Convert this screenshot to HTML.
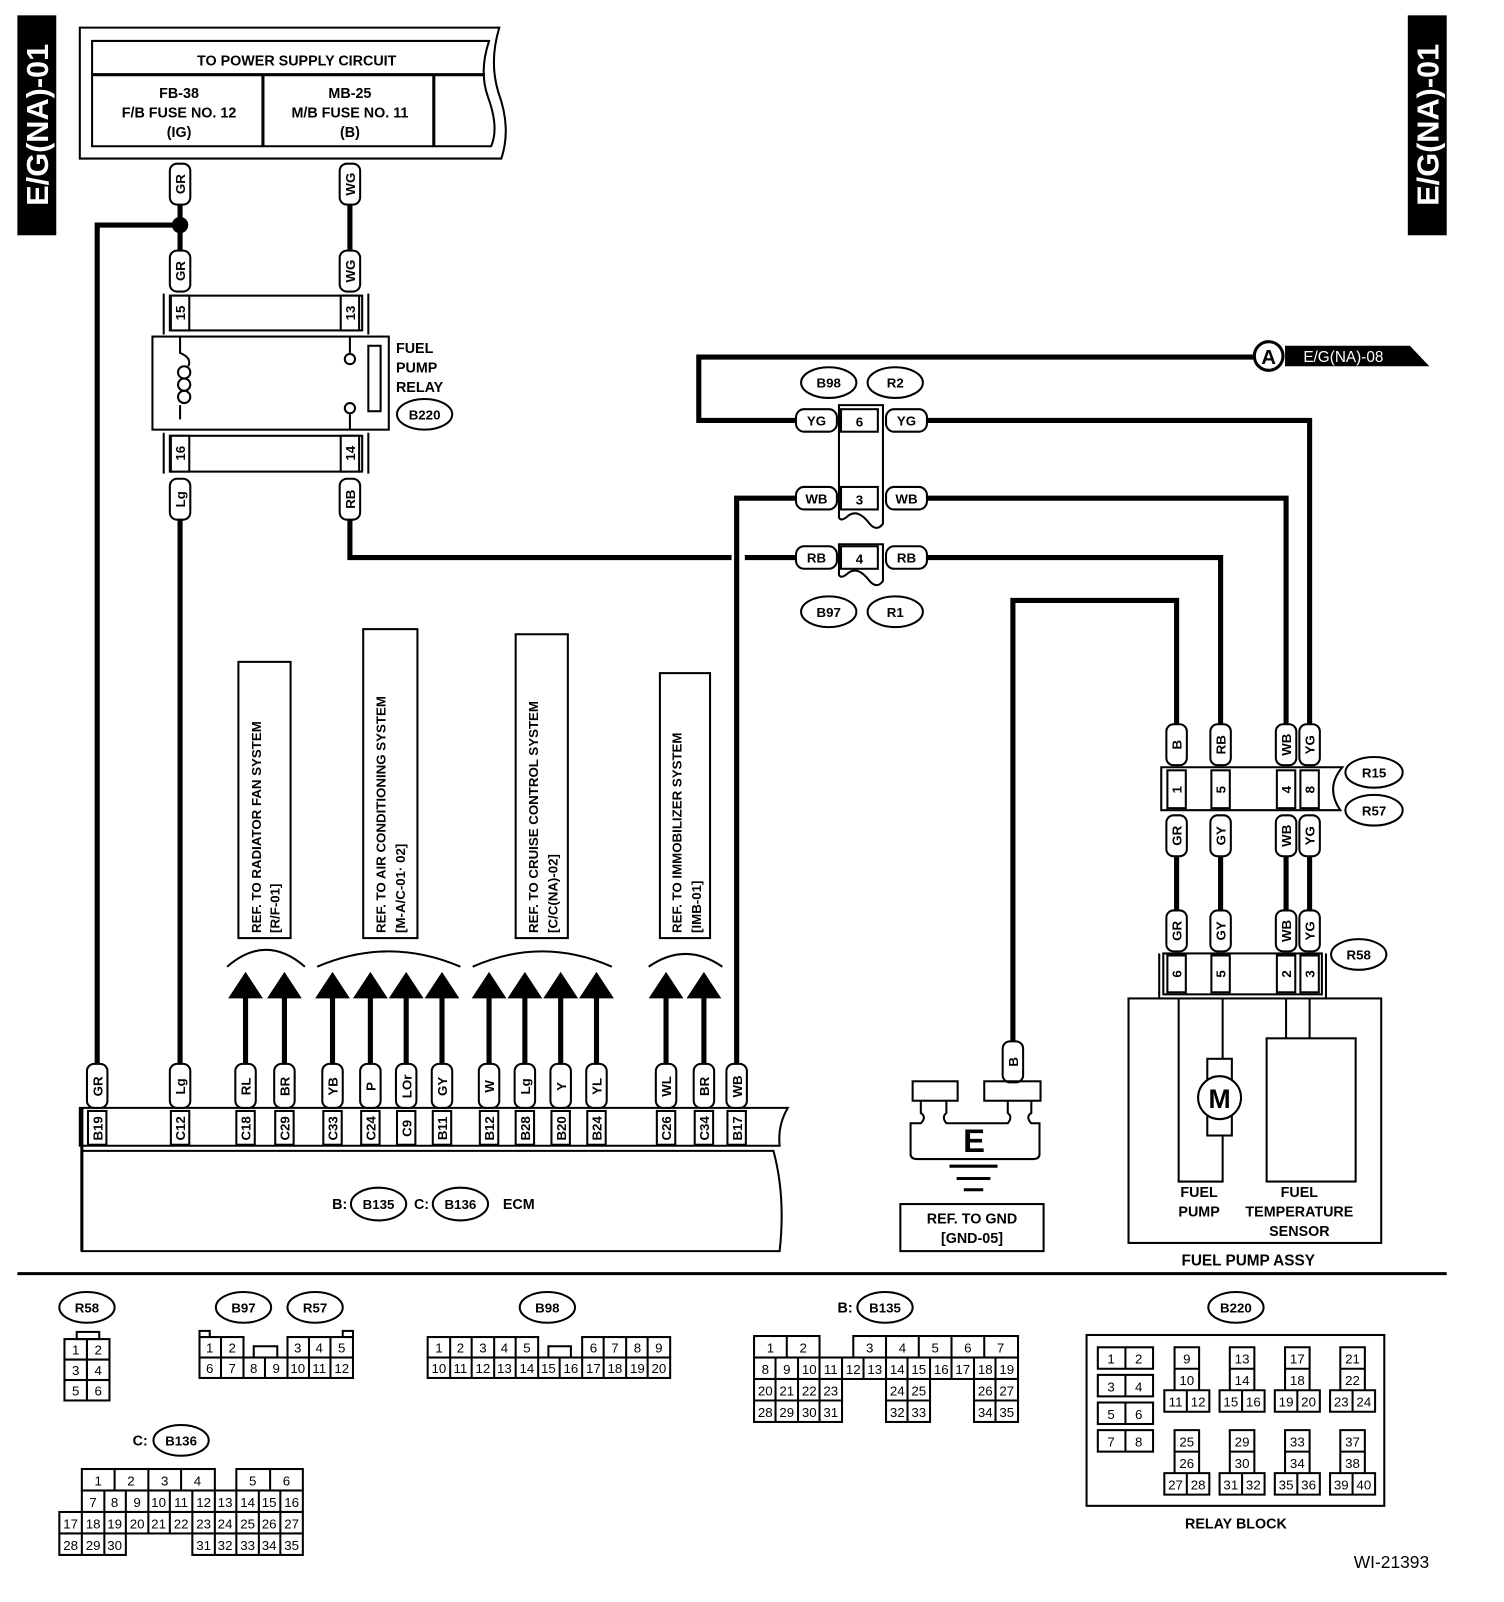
<!DOCTYPE html>
<html><head><meta charset="utf-8"><style>
html,body{margin:0;padding:0;background:#fff}
svg{display:block}
text{font-family:"Liberation Sans",sans-serif;font-weight:bold;fill:#000}
.c{font-size:13px;text-anchor:middle}
.m{font-size:14px;text-anchor:middle}
.s{font-size:13px;font-weight:normal;text-anchor:middle}
.b{font-size:14px;text-anchor:middle}
.w{fill:none;stroke:#000;stroke-width:5}
.t{fill:#fff;stroke:#000;stroke-width:2}
.n{fill:none;stroke:#000;stroke-width:2}
</style></head><body>
<svg width="1504" height="1602" viewBox="0 0 1470 1566" preserveAspectRatio="none" xmlns="http://www.w3.org/2000/svg">
<rect x="17" y="15" width="38" height="215" fill="#000"/>
<text transform="translate(47,122) rotate(-90)" style="font-size:30px;fill:#fff;text-anchor:middle">E/G(NA)-01</text>
<rect x="1376" y="15" width="38" height="215" fill="#000"/>
<text transform="translate(1406,122) rotate(-90)" style="font-size:30px;fill:#fff;text-anchor:middle">E/G(NA)-01</text>

<path d="M78,27 L488,27 Q478,60 487,90 Q500,125 490,155 L78,155 Z" class="n" stroke-width="3"/>
<path d="M90,40 L478,40 Q468,70 477,95 Q488,125 480,143 L90,143 Z" class="n" stroke-width="3"/>
<line x1="90" y1="73" x2="474" y2="73" stroke="#000" stroke-width="3"/>
<line x1="257" y1="73" x2="257" y2="143" stroke="#000" stroke-width="3"/>
<line x1="424" y1="73" x2="424" y2="143" stroke="#000" stroke-width="3"/>
<text x="290" y="64" class="b">TO POWER SUPPLY CIRCUIT</text>
<text x="175" y="96" class="b">FB-38</text>
<text x="175" y="115" class="b">F/B FUSE NO. 12</text>
<text x="175" y="134" class="b">(IG)</text>
<text x="342" y="96" class="b">MB-25</text>
<text x="342" y="115" class="b">M/B FUSE NO. 11</text>
<text x="342" y="134" class="b">(B)</text>

<path class="w" d="M176,200 V245 M176,220 H95 V1040 M342,200 V245"/>
<circle cx="176" cy="220" r="8" fill="#000"/>
<path class="w" d="M176,508 V1040"/>
<path class="w" d="M342,508 V545 H715 M728,545 H778"/>
<path class="w" d="M778,411 H683 V349 H1228"/>
<path class="w" d="M905,411 H1280 V708"/>
<path class="w" d="M778,487 H720 V1040"/>
<path class="w" d="M905,487 H1257 V708"/>
<path class="w" d="M905,545 H1193 V708"/>
<path class="w" d="M1150,708 V587 H990 V1020"/>
<path class="w" d="M1150,837 V890 M1193,837 V890 M1257,837 V890 M1280,837 V890"/>

<circle cx="1240" cy="348" r="14" fill="#fff" stroke="#000" stroke-width="3"/>
<text x="1240" y="356" class="m" style="font-size:20px">A</text>
<path d="M1256,338 L1378,338 L1397,358 L1256,358 Z" fill="#000"/>
<text x="1313" y="354" class="s" style="fill:#fff;font-size:15px">E/G(NA)-08</text>

<line x1="160" y1="287" x2="160" y2="327" stroke="#000" stroke-width="2"/>
<line x1="360" y1="287" x2="360" y2="327" stroke="#000" stroke-width="2"/>
<rect x="166" y="289" width="188" height="34" class="t" stroke-width="3"/>
<rect x="167" y="289" width="18" height="34" class="t"/>
<rect x="333" y="289" width="18" height="34" class="t"/>
<text transform="translate(181,306) rotate(-90)" class="c">15</text>
<text transform="translate(347,306) rotate(-90)" class="c">13</text>
<rect x="149" y="329" width="231" height="91" class="t"/>
<path d="M176,329 V345 Q188,350 184,358 M176,410 V396" class="n"/>
<circle cx="180" cy="364" r="6" class="n"/><circle cx="180" cy="376" r="6" class="n"/><circle cx="180" cy="388" r="6" class="n"/>
<line x1="342" y1="329" x2="342" y2="345" stroke="#000" stroke-width="2"/>
<circle cx="342" cy="351" r="5" class="t"/>
<circle cx="342" cy="399" r="5" class="t"/>
<line x1="342" y1="404" x2="342" y2="420" stroke="#000" stroke-width="2"/>
<rect x="360" y="338" width="12" height="64" class="t"/>
<text x="387" y="345" style="font-size:14px">FUEL</text>
<text x="387" y="364" style="font-size:14px">PUMP</text>
<text x="387" y="383" style="font-size:14px">RELAY</text>
<ellipse cx="415" cy="405" rx="27" ry="15" class="t" stroke-width="3"/>
<text x="415" y="410" class="c">B220</text>
<line x1="160" y1="423" x2="160" y2="463" stroke="#000" stroke-width="2"/>
<line x1="360" y1="423" x2="360" y2="463" stroke="#000" stroke-width="2"/>
<rect x="166" y="426" width="188" height="35" class="t" stroke-width="3"/>
<rect x="167" y="426" width="18" height="35" class="t"/>
<rect x="333" y="426" width="18" height="35" class="t"/>
<text transform="translate(181,443) rotate(-90)" class="c">16</text>
<text transform="translate(347,443) rotate(-90)" class="c">14</text>

<g>
<rect x="166" y="160" width="20" height="40" rx="7" class="t"/><text transform="translate(181,180) rotate(-90)" class="c">GR</text>
<rect x="166" y="245" width="20" height="40" rx="7" class="t"/><text transform="translate(181,265) rotate(-90)" class="c">GR</text>
<rect x="332" y="160" width="20" height="40" rx="7" class="t"/><text transform="translate(347,180) rotate(-90)" class="c">WG</text>
<rect x="332" y="245" width="20" height="40" rx="7" class="t"/><text transform="translate(347,265) rotate(-90)" class="c">WG</text>
<rect x="166" y="468" width="20" height="40" rx="7" class="t"/><text transform="translate(181,488) rotate(-90)" class="c">Lg</text>
<rect x="332" y="468" width="20" height="40" rx="7" class="t"/><text transform="translate(347,488) rotate(-90)" class="c">RB</text>
<rect x="1140" y="708" width="20" height="40" rx="7" class="t"/><text transform="translate(1155,728) rotate(-90)" class="c">B</text>
<rect x="1183" y="708" width="20" height="40" rx="7" class="t"/><text transform="translate(1198,728) rotate(-90)" class="c">RB</text>
<rect x="1247" y="708" width="20" height="40" rx="7" class="t"/><text transform="translate(1262,728) rotate(-90)" class="c">WB</text>
<rect x="1270" y="708" width="20" height="40" rx="7" class="t"/><text transform="translate(1285,728) rotate(-90)" class="c">YG</text>
<rect x="1140" y="797" width="20" height="40" rx="7" class="t"/><text transform="translate(1155,817) rotate(-90)" class="c">GR</text>
<rect x="1183" y="797" width="20" height="40" rx="7" class="t"/><text transform="translate(1198,817) rotate(-90)" class="c">GY</text>
<rect x="1247" y="797" width="20" height="40" rx="7" class="t"/><text transform="translate(1262,817) rotate(-90)" class="c">WB</text>
<rect x="1270" y="797" width="20" height="40" rx="7" class="t"/><text transform="translate(1285,817) rotate(-90)" class="c">YG</text>
<rect x="1140" y="890" width="20" height="40" rx="7" class="t"/><text transform="translate(1155,910) rotate(-90)" class="c">GR</text>
<rect x="1183" y="890" width="20" height="40" rx="7" class="t"/><text transform="translate(1198,910) rotate(-90)" class="c">GY</text>
<rect x="1247" y="890" width="20" height="40" rx="7" class="t"/><text transform="translate(1262,910) rotate(-90)" class="c">WB</text>
<rect x="1270" y="890" width="20" height="40" rx="7" class="t"/><text transform="translate(1285,910) rotate(-90)" class="c">YG</text>
<rect x="980" y="1018" width="20" height="40" rx="7" class="t"/><text transform="translate(995,1038) rotate(-90)" class="c">B</text>
</g>

<ellipse cx="810" cy="374" rx="27" ry="15" class="t" stroke-width="3"/><text x="810" y="379" class="c">B98</text>
<ellipse cx="875" cy="374" rx="27" ry="15" class="t" stroke-width="3"/><text x="875" y="379" class="c">R2</text>
<ellipse cx="810" cy="598" rx="27" ry="15" class="t" stroke-width="3"/><text x="810" y="603" class="c">B97</text>
<ellipse cx="875" cy="598" rx="27" ry="15" class="t" stroke-width="3"/><text x="875" y="603" class="c">R1</text>
<path d="M820,396 H863 V512 Q857,520 850,512 Q838,496 828,505 Q822,510 820,506 Z" class="t"/>
<path d="M820,532 H863 V568 Q857,576 850,568 Q838,552 828,561 Q822,566 820,562 Z" class="t"/>
<rect x="822" y="400" width="36" height="22" class="t"/><text x="840" y="417" class="c">6</text>
<rect x="822" y="476" width="36" height="22" class="t"/><text x="840" y="493" class="c">3</text>
<rect x="822" y="534" width="36" height="22" class="t"/><text x="840" y="551" class="c">4</text>
<rect x="778" y="400" width="40" height="22" rx="8" class="t"/><text x="798" y="416" class="c">YG</text>
<rect x="866" y="400" width="40" height="22" rx="8" class="t"/><text x="886" y="416" class="c">YG</text>
<rect x="778" y="476" width="40" height="22" rx="8" class="t"/><text x="798" y="492" class="c">WB</text>
<rect x="866" y="476" width="40" height="22" rx="8" class="t"/><text x="886" y="492" class="c">WB</text>
<rect x="778" y="534" width="40" height="22" rx="8" class="t"/><text x="798" y="550" class="c">RB</text>
<rect x="866" y="534" width="40" height="22" rx="8" class="t"/><text x="886" y="550" class="c">RB</text>

<path d="M1135,750 H1312 Q1295,770 1310,792 H1135 Z" class="t" stroke-width="3"/>
<rect x="1141" y="753" width="18" height="37" class="t"/><text transform="translate(1155,772) rotate(-90)" class="c">1</text>
<rect x="1184" y="753" width="18" height="37" class="t"/><text transform="translate(1198,772) rotate(-90)" class="c">5</text>
<rect x="1248" y="753" width="18" height="37" class="t"/><text transform="translate(1262,772) rotate(-90)" class="c">4</text>
<rect x="1271" y="753" width="18" height="37" class="t"/><text transform="translate(1285,772) rotate(-90)" class="c">8</text>
<ellipse cx="1343" cy="755" rx="28" ry="15" class="t" stroke-width="3"/><text x="1343" y="760" class="c">R15</text>
<ellipse cx="1343" cy="792" rx="28" ry="15" class="t" stroke-width="3"/><text x="1343" y="797" class="c">R57</text>
<line x1="1133" y1="932" x2="1133" y2="975" stroke="#000" stroke-width="2"/>
<line x1="1296" y1="932" x2="1296" y2="975" stroke="#000" stroke-width="2"/>
<rect x="1137" y="932" width="155" height="40" class="t" stroke-width="3"/>
<rect x="1141" y="934" width="18" height="36" class="t"/><text transform="translate(1155,952) rotate(-90)" class="c">6</text>
<rect x="1184" y="934" width="18" height="36" class="t"/><text transform="translate(1198,952) rotate(-90)" class="c">5</text>
<rect x="1248" y="934" width="18" height="36" class="t"/><text transform="translate(1262,952) rotate(-90)" class="c">2</text>
<rect x="1271" y="934" width="18" height="36" class="t"/><text transform="translate(1285,952) rotate(-90)" class="c">3</text>
<ellipse cx="1328" cy="933" rx="27" ry="15" class="t" stroke-width="3"/><text x="1328" y="938" class="c">R58</text>

<rect x="1103" y="976" width="247" height="239" class="n" stroke-width="3"/>
<path d="M1152,976 V1155 H1195 V1110 M1195,1035 V976" class="n"/>
<rect x="1180" y="1035" width="24" height="75" class="t"/>
<circle cx="1192" cy="1073" r="21" class="t" stroke-width="3"/>
<text x="1192" y="1083" class="m" style="font-size:26px">M</text>
<rect x="1238" y="1015" width="87" height="140" class="n" stroke-width="3"/>
<path d="M1257,976 V1015 M1280,976 V1015" class="n"/>
<text x="1172" y="1170" class="m">FUEL</text>
<text x="1172" y="1189" class="m">PUMP</text>
<text x="1270" y="1170" class="m">FUEL</text>
<text x="1270" y="1189" class="m">TEMPERATURE</text>
<text x="1270" y="1208" class="m">SENSOR</text>
<text x="1220" y="1237" class="m" style="font-size:15px">FUEL PUMP ASSY</text>

<rect x="892" y="1057" width="44" height="19" class="n"/>
<rect x="962" y="1057" width="55" height="19" class="n"/>
<path d="M900,1076 V1088 Q906,1092 900,1098 H890 V1128 Q890,1133 896,1133 H1010 Q1016,1133 1016,1128 V1098 H1008 Q1002,1092 1008,1088 V1076 M925,1076 V1088 Q920,1092 925,1098 H985 Q990,1092 985,1088 V1076" class="n"/>
<text x="952" y="1126" class="m" style="font-size:32px">E</text>
<path d="M928,1140 H975 M935,1152 H968 M942,1163 H961" stroke="#000" stroke-width="3"/>
<rect x="880" y="1177" width="140" height="46" class="n" stroke-width="3"/>
<text x="950" y="1196" class="m">REF. TO GND</text>
<text x="950" y="1215" class="m">[GND-05]</text>

<rect x="233" y="647" width="51" height="270" class="n" stroke-width="3"/>
<text transform="translate(255,912) rotate(-90)" style="font-size:13px">REF. TO RADIATOR FAN SYSTEM</text>
<text transform="translate(273,912) rotate(-90)" style="font-size:13px">[R/F-01]</text>
<rect x="355" y="615" width="53" height="302" class="n" stroke-width="3"/>
<text transform="translate(377,912) rotate(-90)" style="font-size:13px">REF. TO AIR CONDITIONING SYSTEM</text>
<text transform="translate(396,912) rotate(-90)" style="font-size:13px">[M-A/C-01· 02]</text>
<rect x="504" y="620" width="51" height="297" class="n" stroke-width="3"/>
<text transform="translate(526,912) rotate(-90)" style="font-size:13px">REF. TO CRUISE CONTROL SYSTEM</text>
<text transform="translate(545,912) rotate(-90)" style="font-size:13px">[C/C(NA)-02]</text>
<rect x="645" y="658" width="49" height="259" class="n" stroke-width="3"/>
<text transform="translate(666,912) rotate(-90)" style="font-size:13px">REF. TO IMMOBILIZER SYSTEM</text>
<text transform="translate(685,912) rotate(-90)" style="font-size:13px">[IMB-01]</text>

<path d="M222,945 Q260,912 298,945 M310,945 Q380,915 450,945 M462,945 Q530,915 598,945 M634,945 Q670,920 706,945" class="n"/>

<g fill="#000">
<path class="w" d="M240,975V1040 M278,975V1040 M325,975V1040 M362,975V1040 M397,975V1040 M432,975V1040 M478,975V1040 M513,975V1040 M548,975V1040 M583,975V1040 M651,975V1040 M688,975V1040"/>
<polygon points="223,976 257,976 240,950"/><polygon points="261,976 295,976 278,950"/>
<polygon points="308,976 342,976 325,950"/><polygon points="345,976 379,976 362,950"/>
<polygon points="380,976 414,976 397,950"/><polygon points="415,976 449,976 432,950"/>
<polygon points="461,976 495,976 478,950"/><polygon points="496,976 530,976 513,950"/>
<polygon points="531,976 565,976 548,950"/><polygon points="566,976 600,976 583,950"/>
<polygon points="634,976 668,976 651,950"/><polygon points="671,976 705,976 688,950"/>
</g>

<path d="M78,1083 H770 Q760,1100 762,1120 H78 Z" class="t" stroke-width="3"/>
<path d="M80,1125 H756 Q768,1170 762,1223 H80 Z" class="n" stroke-width="3"/>
<line x1="80" y1="1083" x2="80" y2="1223" stroke="#000" stroke-width="3"/>
<g>
<rect x="85" y="1040" width="20" height="43" rx="7" class="t"/><text transform="translate(100,1062) rotate(-90)" class="c">GR</text>
<rect x="86" y="1086" width="18" height="33" class="t"/><text transform="translate(100,1103) rotate(-90)" class="c">B19</text>
<rect x="166" y="1040" width="20" height="43" rx="7" class="t"/><text transform="translate(181,1062) rotate(-90)" class="c">Lg</text>
<rect x="167" y="1086" width="18" height="33" class="t"/><text transform="translate(181,1103) rotate(-90)" class="c">C12</text>
<rect x="230" y="1040" width="20" height="43" rx="7" class="t"/><text transform="translate(245,1062) rotate(-90)" class="c">RL</text>
<rect x="231" y="1086" width="18" height="33" class="t"/><text transform="translate(245,1103) rotate(-90)" class="c">C18</text>
<rect x="268" y="1040" width="20" height="43" rx="7" class="t"/><text transform="translate(283,1062) rotate(-90)" class="c">BR</text>
<rect x="269" y="1086" width="18" height="33" class="t"/><text transform="translate(283,1103) rotate(-90)" class="c">C29</text>
<rect x="315" y="1040" width="20" height="43" rx="7" class="t"/><text transform="translate(330,1062) rotate(-90)" class="c">YB</text>
<rect x="316" y="1086" width="18" height="33" class="t"/><text transform="translate(330,1103) rotate(-90)" class="c">C33</text>
<rect x="352" y="1040" width="20" height="43" rx="7" class="t"/><text transform="translate(367,1062) rotate(-90)" class="c">P</text>
<rect x="353" y="1086" width="18" height="33" class="t"/><text transform="translate(367,1103) rotate(-90)" class="c">C24</text>
<rect x="387" y="1040" width="20" height="43" rx="7" class="t"/><text transform="translate(402,1062) rotate(-90)" class="c">LOr</text>
<rect x="388" y="1086" width="18" height="33" class="t"/><text transform="translate(402,1103) rotate(-90)" class="c">C9</text>
<rect x="422" y="1040" width="20" height="43" rx="7" class="t"/><text transform="translate(437,1062) rotate(-90)" class="c">GY</text>
<rect x="423" y="1086" width="18" height="33" class="t"/><text transform="translate(437,1103) rotate(-90)" class="c">B11</text>
<rect x="468" y="1040" width="20" height="43" rx="7" class="t"/><text transform="translate(483,1062) rotate(-90)" class="c">W</text>
<rect x="469" y="1086" width="18" height="33" class="t"/><text transform="translate(483,1103) rotate(-90)" class="c">B12</text>
<rect x="503" y="1040" width="20" height="43" rx="7" class="t"/><text transform="translate(518,1062) rotate(-90)" class="c">Lg</text>
<rect x="504" y="1086" width="18" height="33" class="t"/><text transform="translate(518,1103) rotate(-90)" class="c">B28</text>
<rect x="538" y="1040" width="20" height="43" rx="7" class="t"/><text transform="translate(553,1062) rotate(-90)" class="c">Y</text>
<rect x="539" y="1086" width="18" height="33" class="t"/><text transform="translate(553,1103) rotate(-90)" class="c">B20</text>
<rect x="573" y="1040" width="20" height="43" rx="7" class="t"/><text transform="translate(588,1062) rotate(-90)" class="c">YL</text>
<rect x="574" y="1086" width="18" height="33" class="t"/><text transform="translate(588,1103) rotate(-90)" class="c">B24</text>
<rect x="641" y="1040" width="20" height="43" rx="7" class="t"/><text transform="translate(656,1062) rotate(-90)" class="c">WL</text>
<rect x="642" y="1086" width="18" height="33" class="t"/><text transform="translate(656,1103) rotate(-90)" class="c">C26</text>
<rect x="678" y="1040" width="20" height="43" rx="7" class="t"/><text transform="translate(693,1062) rotate(-90)" class="c">BR</text>
<rect x="679" y="1086" width="18" height="33" class="t"/><text transform="translate(693,1103) rotate(-90)" class="c">C34</text>
<rect x="710" y="1040" width="20" height="43" rx="7" class="t"/><text transform="translate(725,1062) rotate(-90)" class="c">WB</text>
<rect x="711" y="1086" width="18" height="33" class="t"/><text transform="translate(725,1103) rotate(-90)" class="c">B17</text>
</g>
<text x="332" y="1182" class="m">B:</text>
<ellipse cx="370" cy="1177" rx="27" ry="16" class="t" stroke-width="3"/><text x="370" y="1182" class="c">B135</text>
<text x="412" y="1182" class="m">C:</text>
<ellipse cx="450" cy="1177" rx="27" ry="16" class="t" stroke-width="3"/><text x="450" y="1182" class="c">B136</text>
<text x="507" y="1182" class="m">ECM</text>

<line x1="17" y1="1245" x2="1414" y2="1245" stroke="#000" stroke-width="3"/>

<g class="s">
<ellipse cx="85" cy="1278" rx="27" ry="15" class="t" stroke-width="3"/><text x="85" y="1283" class="c">R58</text>
<rect x="75" y="1302" width="22" height="7" class="n" stroke-width="1.5"/>
<g class="n" stroke-width="1.5"><rect x="63" y="1309" width="22" height="20"/><rect x="85" y="1309" width="22" height="20"/><rect x="63" y="1329" width="22" height="20"/><rect x="85" y="1329" width="22" height="20"/><rect x="63" y="1349" width="22" height="20"/><rect x="85" y="1349" width="22" height="20"/></g>
<text x="74" y="1324" class="s">1</text><text x="96" y="1324" class="s">2</text><text x="74" y="1344" class="s">3</text><text x="96" y="1344" class="s">4</text><text x="74" y="1364" class="s">5</text><text x="96" y="1364" class="s">6</text>

<ellipse cx="238" cy="1278" rx="27" ry="15" class="t" stroke-width="3"/><text x="238" y="1283" class="c">B97</text>
<ellipse cx="308" cy="1278" rx="27" ry="15" class="t" stroke-width="3"/><text x="308" y="1283" class="c">R57</text>
<g class="n" stroke-width="1.5">
<rect x="195" y="1301" width="10" height="6"/><rect x="335" y="1301" width="10" height="6"/>
<rect x="195" y="1307" width="43" height="20"/><line x1="216" y1="1307" x2="216" y2="1327"/>
<rect x="281" y="1307" width="64" height="20"/><line x1="302" y1="1307" x2="302" y2="1327"/><line x1="323" y1="1307" x2="323" y2="1327"/>
<rect x="248" y="1316" width="23" height="11"/>
<rect x="195" y="1327" width="150" height="20"/>
<path d="M216,1327V1347M238,1327V1347M259,1327V1347M281,1327V1347M302,1327V1347M323,1327V1347"/>
</g>
<text x="205" y="1322" class="s">1</text><text x="227" y="1322" class="s">2</text><text x="291" y="1322" class="s">3</text><text x="312" y="1322" class="s">4</text><text x="334" y="1322" class="s">5</text>
<text x="205" y="1342" class="s">6</text><text x="227" y="1342" class="s">7</text><text x="248" y="1342" class="s">8</text><text x="270" y="1342" class="s">9</text><text x="291" y="1342" class="s">10</text><text x="312" y="1342" class="s">11</text><text x="334" y="1342" class="s">12</text>

<ellipse cx="535" cy="1278" rx="27" ry="15" class="t" stroke-width="3"/><text x="535" y="1283" class="c">B98</text>
<g class="n" stroke-width="1.5">
<rect x="418" y="1307" width="108" height="20"/><path d="M440,1307V1327M461,1307V1327M483,1307V1327M504,1307V1327"/>
<rect x="569" y="1307" width="86" height="20"/><path d="M590,1307V1327M612,1307V1327M633,1307V1327"/>
<rect x="536" y="1316" width="22" height="11"/>
<rect x="418" y="1327" width="237" height="20"/>
<path d="M440,1327V1347M461,1327V1347M483,1327V1347M504,1327V1347M526,1327V1347M547,1327V1347M569,1327V1347M590,1327V1347M612,1327V1347M633,1327V1347"/>
</g>
<text x="429" y="1322" class="s">1</text><text x="450" y="1322" class="s">2</text><text x="472" y="1322" class="s">3</text><text x="493" y="1322" class="s">4</text><text x="515" y="1322" class="s">5</text><text x="580" y="1322" class="s">6</text><text x="601" y="1322" class="s">7</text><text x="623" y="1322" class="s">8</text><text x="644" y="1322" class="s">9</text>
<text x="429" y="1342" class="s">10</text><text x="450" y="1342" class="s">11</text><text x="472" y="1342" class="s">12</text><text x="493" y="1342" class="s">13</text><text x="515" y="1342" class="s">14</text><text x="536" y="1342" class="s">15</text><text x="558" y="1342" class="s">16</text><text x="580" y="1342" class="s">17</text><text x="601" y="1342" class="s">18</text><text x="623" y="1342" class="s">19</text><text x="644" y="1342" class="s">20</text>

<text x="826" y="1283" class="m">B:</text>
<ellipse cx="865" cy="1278" rx="27" ry="15" class="t" stroke-width="3"/><text x="865" y="1283" class="c">B135</text>
<g class="n" stroke-width="1.5">
<rect x="737" y="1306" width="64" height="21"/><line x1="769" y1="1306" x2="769" y2="1327"/>
<rect x="834" y="1306" width="161" height="21"/><path d="M866,1306V1327M898,1306V1327M930,1306V1327M962,1306V1327"/>
<rect x="737" y="1327" width="258" height="21"/>
<path d="M758,1327V1348M780,1327V1348M801,1327V1348M823,1327V1348M844,1327V1348M866,1327V1348M887,1327V1348M909,1327V1348M930,1327V1348M952,1327V1348M973,1327V1348"/>
<rect x="737" y="1348" width="86" height="42"/><path d="M758,1348V1390M780,1348V1390M801,1348V1390M737,1369H823"/>
<rect x="866" y="1348" width="43" height="42"/><path d="M887,1348V1390M866,1369H909"/>
<rect x="952" y="1348" width="43" height="42"/><path d="M973,1348V1390M952,1369H995"/>
</g>
<text x="753" y="1322" class="s">1</text><text x="785" y="1322" class="s">2</text><text x="850" y="1322" class="s">3</text><text x="882" y="1322" class="s">4</text><text x="914" y="1322" class="s">5</text><text x="946" y="1322" class="s">6</text><text x="978" y="1322" class="s">7</text>
<text x="748" y="1343" class="s">8</text><text x="769" y="1343" class="s">9</text><text x="791" y="1343" class="s">10</text><text x="812" y="1343" class="s">11</text><text x="834" y="1343" class="s">12</text><text x="855" y="1343" class="s">13</text><text x="877" y="1343" class="s">14</text><text x="898" y="1343" class="s">15</text><text x="920" y="1343" class="s">16</text><text x="941" y="1343" class="s">17</text><text x="963" y="1343" class="s">18</text><text x="984" y="1343" class="s">19</text>
<text x="748" y="1364" class="s">20</text><text x="769" y="1364" class="s">21</text><text x="791" y="1364" class="s">22</text><text x="812" y="1364" class="s">23</text><text x="877" y="1364" class="s">24</text><text x="898" y="1364" class="s">25</text><text x="963" y="1364" class="s">26</text><text x="984" y="1364" class="s">27</text>
<text x="748" y="1385" class="s">28</text><text x="769" y="1385" class="s">29</text><text x="791" y="1385" class="s">30</text><text x="812" y="1385" class="s">31</text><text x="877" y="1385" class="s">32</text><text x="898" y="1385" class="s">33</text><text x="963" y="1385" class="s">34</text><text x="984" y="1385" class="s">35</text>

<text x="137" y="1413" class="m">C:</text>
<ellipse cx="177" cy="1408" rx="27" ry="15" class="t" stroke-width="3"/><text x="177" y="1413" class="c">B136</text>
<g class="n" stroke-width="1.5">
<rect x="80" y="1436" width="130" height="21"/><path d="M112,1436V1457M145,1436V1457M177,1436V1457"/>
<rect x="231" y="1436" width="65" height="21"/><line x1="264" y1="1436" x2="264" y2="1457"/>
<rect x="80" y="1457" width="216" height="21"/>
<path d="M102,1457V1478M123,1457V1478M145,1457V1478M166,1457V1478M188,1457V1478M210,1457V1478M231,1457V1478M253,1457V1478M274,1457V1478"/>
<rect x="58" y="1478" width="238" height="21"/>
<path d="M80,1478V1499M102,1478V1499M123,1478V1499M145,1478V1499M166,1478V1499M188,1478V1499M210,1478V1499M231,1478V1499M253,1478V1499M274,1478V1499"/>
<rect x="58" y="1499" width="65" height="21"/><path d="M80,1499V1520M102,1499V1520"/>
<rect x="188" y="1499" width="108" height="21"/><path d="M210,1499V1520M231,1499V1520M253,1499V1520M274,1499V1520"/>
</g>
<text x="96" y="1452" class="s">1</text><text x="128" y="1452" class="s">2</text><text x="161" y="1452" class="s">3</text><text x="193" y="1452" class="s">4</text><text x="247" y="1452" class="s">5</text><text x="280" y="1452" class="s">6</text>
<text x="91" y="1473" class="s">7</text><text x="112" y="1473" class="s">8</text><text x="134" y="1473" class="s">9</text><text x="155" y="1473" class="s">10</text><text x="177" y="1473" class="s">11</text><text x="199" y="1473" class="s">12</text><text x="220" y="1473" class="s">13</text><text x="242" y="1473" class="s">14</text><text x="263" y="1473" class="s">15</text><text x="285" y="1473" class="s">16</text>
<text x="69" y="1494" class="s">17</text><text x="91" y="1494" class="s">18</text><text x="112" y="1494" class="s">19</text><text x="134" y="1494" class="s">20</text><text x="155" y="1494" class="s">21</text><text x="177" y="1494" class="s">22</text><text x="199" y="1494" class="s">23</text><text x="220" y="1494" class="s">24</text><text x="242" y="1494" class="s">25</text><text x="263" y="1494" class="s">26</text><text x="285" y="1494" class="s">27</text>
<text x="69" y="1515" class="s">28</text><text x="91" y="1515" class="s">29</text><text x="112" y="1515" class="s">30</text><text x="199" y="1515" class="s">31</text><text x="220" y="1515" class="s">32</text><text x="242" y="1515" class="s">33</text><text x="263" y="1515" class="s">34</text><text x="285" y="1515" class="s">35</text>

<ellipse cx="1208" cy="1278" rx="27" ry="15" class="t" stroke-width="3"/><text x="1208" y="1283" class="c">B220</text>
<rect x="1062" y="1305" width="291" height="167" class="n" stroke-width="2"/>
<g class="n" stroke-width="2">
<rect x="1073" y="1317" width="54" height="21"/><line x1="1100" y1="1317" x2="1100" y2="1338"/>
<rect x="1073" y="1344" width="54" height="21"/><line x1="1100" y1="1344" x2="1100" y2="1365"/>
<rect x="1073" y="1371" width="54" height="21"/><line x1="1100" y1="1371" x2="1100" y2="1392"/>
<rect x="1073" y="1398" width="54" height="21"/><line x1="1100" y1="1398" x2="1100" y2="1419"/>
<path d="M1148,1317H1172V1359H1148Z M1138,1359H1182V1380H1138Z M1160,1359V1380 M1148,1338H1172"/>
<path d="M1202,1317H1226V1359H1202Z M1192,1359H1236V1380H1192Z M1214,1359V1380 M1202,1338H1226"/>
<path d="M1256,1317H1280V1359H1256Z M1246,1359H1290V1380H1246Z M1268,1359V1380 M1256,1338H1280"/>
<path d="M1310,1317H1334V1359H1310Z M1300,1359H1344V1380H1300Z M1322,1359V1380 M1310,1338H1334"/>
<path d="M1148,1398H1172V1440H1148Z M1138,1440H1182V1461H1138Z M1160,1440V1461 M1148,1419H1172"/>
<path d="M1202,1398H1226V1440H1202Z M1192,1440H1236V1461H1192Z M1214,1440V1461 M1202,1419H1226"/>
<path d="M1256,1398H1280V1440H1256Z M1246,1440H1290V1461H1246Z M1268,1440V1461 M1256,1419H1280"/>
<path d="M1310,1398H1334V1440H1310Z M1300,1440H1344V1461H1300Z M1322,1440V1461 M1310,1419H1334"/>
</g>
<text x="1086" y="1333" class="s">1</text><text x="1113" y="1333" class="s">2</text><text x="1086" y="1360" class="s">3</text><text x="1113" y="1360" class="s">4</text><text x="1086" y="1387" class="s">5</text><text x="1113" y="1387" class="s">6</text><text x="1086" y="1414" class="s">7</text><text x="1113" y="1414" class="s">8</text>
<text x="1160" y="1333" class="s">9</text><text x="1160" y="1354" class="s">10</text><text x="1149" y="1375" class="s">11</text><text x="1171" y="1375" class="s">12</text>
<text x="1214" y="1333" class="s">13</text><text x="1214" y="1354" class="s">14</text><text x="1203" y="1375" class="s">15</text><text x="1225" y="1375" class="s">16</text>
<text x="1268" y="1333" class="s">17</text><text x="1268" y="1354" class="s">18</text><text x="1257" y="1375" class="s">19</text><text x="1279" y="1375" class="s">20</text>
<text x="1322" y="1333" class="s">21</text><text x="1322" y="1354" class="s">22</text><text x="1311" y="1375" class="s">23</text><text x="1333" y="1375" class="s">24</text>
<text x="1160" y="1414" class="s">25</text><text x="1160" y="1435" class="s">26</text><text x="1149" y="1456" class="s">27</text><text x="1171" y="1456" class="s">28</text>
<text x="1214" y="1414" class="s">29</text><text x="1214" y="1435" class="s">30</text><text x="1203" y="1456" class="s">31</text><text x="1225" y="1456" class="s">32</text>
<text x="1268" y="1414" class="s">33</text><text x="1268" y="1435" class="s">34</text><text x="1257" y="1456" class="s">35</text><text x="1279" y="1456" class="s">36</text>
<text x="1322" y="1414" class="s">37</text><text x="1322" y="1435" class="s">38</text><text x="1311" y="1456" class="s">39</text><text x="1333" y="1456" class="s">40</text>
<text x="1208" y="1494" class="m">RELAY BLOCK</text>
</g>
<text x="1360" y="1533" class="s" style="font-size:17px">WI-21393</text>
</svg>
</body></html>
